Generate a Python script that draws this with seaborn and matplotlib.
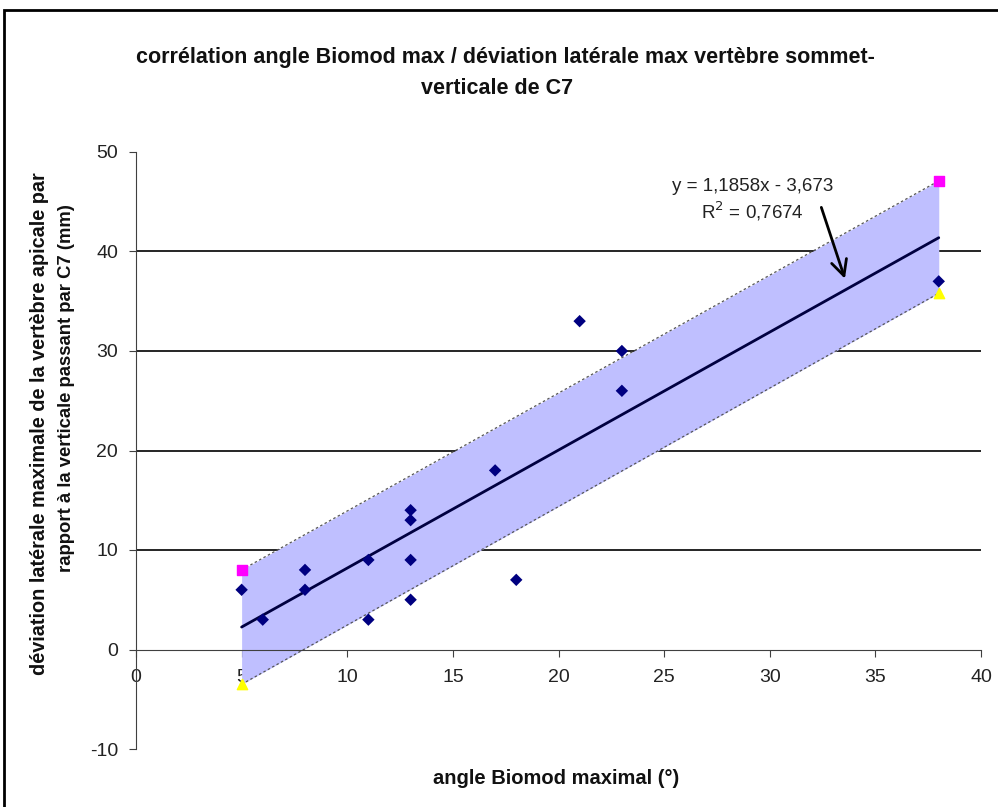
import matplotlib
matplotlib.use("Agg")
import matplotlib.pyplot as plt
from matplotlib.patches import Rectangle
import seaborn as sns
import pandas as pd

# === données ===
angle_biomod = [5, 6, 8, 8, 11, 11, 13, 13, 13, 13, 17, 18, 21, 23, 23, 38]
deviation = [6, 3, 8, 6, 9, 3, 14, 13, 9, 5, 18, 7, 33, 30, 26, 37]

band_x = [5, 38]
band_haut = [8.0, 47.1]     # carrés roses
band_bas = [-3.5, 35.8]     # triangles jaunes

x_ticks = [0, 5, 10, 15, 20, 25, 30, 35, 40]
y_ticks = [-10, 0, 10, 20, 30, 40, 50]
grid_y = [10, 20, 30, 40]

df = pd.DataFrame({"angle": angle_biomod, "dev": deviation})

sns.set_style("white")
plt.rcParams["font.family"] = ["Liberation Sans", "DejaVu Sans"]
plt.rcParams["axes.unicode_minus"] = False

W, H = 998, 807
fig = plt.figure(figsize=(W / 100, H / 100), dpi=100)
ax = fig.add_axes([136 / W, 1 - 749 / H, (981 - 136) / W, (749 - 152) / H])

# cadre extérieur du graphique
fig.patches.append(Rectangle((4 / W, -0.05), 1.2, 1 - 10 / H + 0.05,
                             transform=fig.transFigure, fill=False,
                             edgecolor="black", linewidth=2, zorder=0))

# lignes de quadrillage
for g in grid_y:
    ax.axhline(g, color="black", linewidth=1.2, zorder=1)

# bande de confiance
ax.fill_between(band_x, band_bas, band_haut, color="#BFBFFF", linewidth=0, zorder=2)
ax.plot(band_x, band_haut, linestyle=(0, (2, 2)), color="#555555", linewidth=0.9, zorder=3)
ax.plot(band_x, band_bas, linestyle=(0, (2, 2)), color="#555555", linewidth=0.9, zorder=3)

# droite de régression + points
sns.regplot(data=df, x="angle", y="dev", ci=None, truncate=True, scatter=False,
            line_kws={"color": "#000040", "linewidth": 2, "zorder": 4}, ax=ax)
sns.scatterplot(data=df, x="angle", y="dev", marker="D", s=40, color="#000080",
                edgecolor="none", zorder=5, ax=ax)
ax.scatter(band_x, band_haut, marker="s", s=45, color="#FF00FF", zorder=5)
ax.scatter(band_x, band_bas, marker="^", s=55, color="#FFFF00", zorder=5)

# équation
ax.text(29.2, 46.5, "y = 1,1858x - 3,673", ha="center", va="center", fontsize=13.5,
        color="#222222")
ax.text(29.2, 44.0, "R$^2$ = 0,7674", ha="center", va="center", fontsize=13.5,
        color="#222222")
ax.annotate("", xy=(33.6, 37.0), xytext=(32.4, 44.7),
            arrowprops=dict(arrowstyle="->", color="black", linewidth=2,
                            mutation_scale=28), zorder=6)

ax.set_xlim(0, 40)
ax.set_ylim(-10, 50)
ax.set_xticks(x_ticks)
ax.set_yticks(y_ticks)

for s in ["top", "right"]:
    ax.spines[s].set_visible(False)
ax.spines["bottom"].set_position(("data", 0))
ax.spines["bottom"].set_color("#404040")
ax.spines["left"].set_color("#404040")
ax.spines["bottom"].set_zorder(6)
ax.tick_params(axis="both", direction="out", length=5, color="#404040",
               labelsize=14, labelcolor="#222222", bottom=True, left=True)
ax.tick_params(axis="y", pad=8)
ax.tick_params(axis="x", pad=9)

ax.set_xlabel("")
ax.set_ylabel("")
fig.text(556 / W, 1 - 778 / H, "angle Biomod maximal (°)", ha="center", va="center",
         fontsize=14.5, fontweight="bold", color="#111111")
fig.text(40 / W, 1 - 424 / H, "déviation latérale maximale de la vertèbre apicale par",
         ha="center", va="center", rotation=90, fontsize=14.3, fontweight="bold",
         color="#111111")
fig.text(67 / W, 1 - 388 / H, "rapport à la verticale passant par C7 (mm)",
         ha="center", va="center", rotation=90, fontsize=13.3, fontweight="bold",
         color="#111111")
fig.text(505 / W, 1 - 57 / H,
         "corrélation angle Biomod max / déviation latérale max vertèbre sommet-",
         ha="center", va="center", fontsize=15.5, fontweight="bold", color="#111111")
fig.text(497 / W, 1 - 88 / H, "verticale de C7",
         ha="center", va="center", fontsize=15.5, fontweight="bold", color="#111111")

fig.savefig("out.png", dpi=100, facecolor="white")
